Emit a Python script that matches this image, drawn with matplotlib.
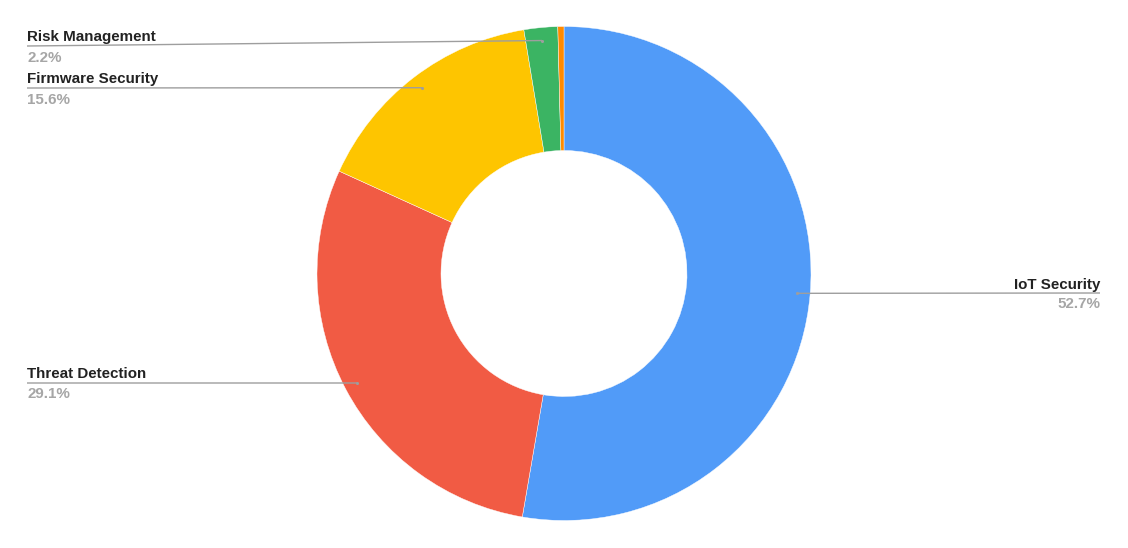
import numpy as np
import matplotlib
matplotlib.use("Agg")
import matplotlib.pyplot as plt

categories = ["IoT Security", "Threat Detection", "Firmware Security", "Risk Management", "Other"]
values = [52.7, 29.1, 15.6, 2.2, 0.4]
colors = ["#519BF8", "#F15B44", "#FEC500", "#3BB463", "#FF8A00"]
show_label = [True, True, True, True, False]

W, H = 1128, 548
fig = plt.figure(figsize=(W / 100, H / 100), dpi=100)
ax = fig.add_axes([0, 0, 1, 1])

cx, cy = 564, H - 273.5
R_out, R_in = 247, 123

ax.pie(values, colors=colors, startangle=90, counterclock=False,
       radius=R_out, center=(cx, cy),
       wedgeprops=dict(width=R_out - R_in, linewidth=0.3, edgecolor="white"))
ax.set_xlim(0, W)
ax.set_ylim(0, H)
ax.set_aspect("equal")
ax.axis("off")

# label layout (pixel coords, top-origin)
layout = {
    "IoT Security": dict(ly=293, tx=1100, ha="right"),
    "Threat Detection": dict(ly=383, tx=27, ha="left"),
    "Firmware Security": dict(ly=88, tx=27, ha="left"),
    "Risk Management": dict(ly=46, tx=27, ha="left"),
}

total = sum(values)
cum = 0.0
font = ["Liberation Sans", "DejaVu Sans"]
for name, v, show in zip(categories, values, show_label):
    mid = cum + v / 2
    cum += v
    if not show:
        continue
    ang = np.deg2rad(90 - mid / total * 360)
    r_dot = 234
    px = cx + r_dot * np.cos(ang)
    py = cy + r_dot * np.sin(ang)
    L = layout[name]
    ly = H - L["ly"]
    ax.plot([px, L["tx"]], [py, ly], color="#9E9E9E", lw=1.0, solid_capstyle="butt")
    ax.plot([px], [py], marker="o", ms=2.2, color="#9E9E9E", mec="none")
    ax.text(L["tx"], ly + 1.5, name, ha=L["ha"], va="bottom", fontsize=10.9,
            fontweight="bold", color="#222222", family=font)
    ax.text(L["tx"], ly - 4.5, f"{v:.1f}%", ha=L["ha"], va="top", fontsize=10.9,
            fontweight="bold", color="#A6A6A6", family=font)

fig.savefig("out.png", dpi=100, facecolor="white")
